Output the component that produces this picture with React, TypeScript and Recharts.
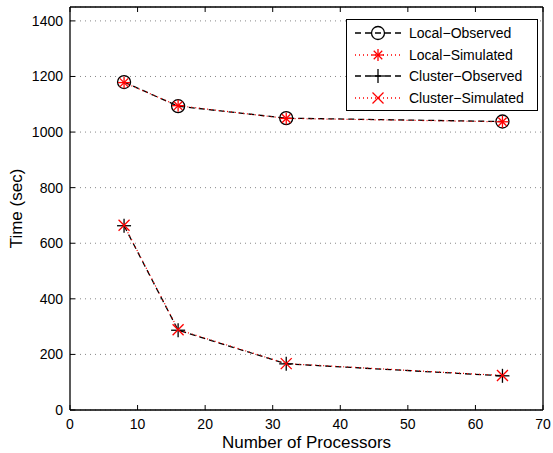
import React from "react";
import {
  LineChart,
  Line,
  XAxis,
  YAxis,
  CartesianGrid,
} from "recharts";

const processors = [8, 16, 32, 64];
const localObserved = [1180, 1093, 1050, 1038];
const localSimulated = [1178, 1095, 1049, 1037];
const clusterObserved = [663, 287, 166, 123];
const clusterSimulated = [665, 289, 167, 124];
const xTicks = [0, 10, 20, 30, 40, 50, 60, 70];
const yTicks = [0, 200, 400, 600, 800, 1000, 1200, 1400];
const seriesNames = [
  "Local\u2212Observed",
  "Local\u2212Simulated",
  "Cluster\u2212Observed",
  "Cluster\u2212Simulated",
];

const data = processors.map((p, i) => ({
  p,
  lo: localObserved[i],
  ls: localSimulated[i],
  co: clusterObserved[i],
  cs: clusterSimulated[i],
}));

const FONT = "'Liberation Sans', Arial, Helvetica, sans-serif";

const CircleMark = ({ cx, cy }: any) => (
  <circle cx={cx} cy={cy} r={6.5} fill="none" stroke="#000" strokeWidth={1.3} />
);
const AsteriskMark = ({ cx, cy }: any) => {
  const r = 6;
  const d = r * 0.7071;
  return (
    <g stroke="#ff0000" strokeWidth={1.3}>
      <line x1={cx - r} y1={cy} x2={cx + r} y2={cy} />
      <line x1={cx} y1={cy - r} x2={cx} y2={cy + r} />
      <line x1={cx - d} y1={cy - d} x2={cx + d} y2={cy + d} />
      <line x1={cx - d} y1={cy + d} x2={cx + d} y2={cy - d} />
    </g>
  );
};
const PlusMark = ({ cx, cy }: any) => {
  const r = 7;
  return (
    <g stroke="#000" strokeWidth={1.3}>
      <line x1={cx - r} y1={cy} x2={cx + r} y2={cy} />
      <line x1={cx} y1={cy - r} x2={cx} y2={cy + r} />
    </g>
  );
};
const XMark = ({ cx, cy }: any) => {
  const r = 5.5;
  return (
    <g stroke="#ff0000" strokeWidth={1.3}>
      <line x1={cx - r} y1={cy - r} x2={cx + r} y2={cy + r} />
      <line x1={cx - r} y1={cy + r} x2={cx + r} y2={cy - r} />
    </g>
  );
};

const BottomTick = ({ x, y, payload }: any) => (
  <g>
    <line x1={x} x2={x} y1={y} y2={y - 5} stroke="#000" />
    <text x={x} y={y + 19} textAnchor="middle" fontSize={14} fontFamily={FONT} fill="#000">
      {payload.value}
    </text>
  </g>
);
const TopTick = ({ x, y }: any) => (
  <line x1={x} x2={x} y1={y} y2={y + 5} stroke="#000" />
);
const LeftTick = ({ x, y, payload }: any) => (
  <g>
    <line x1={x} x2={x + 5} y1={y} y2={y} stroke="#000" />
    <text x={x - 7} y={y + 5} textAnchor="end" fontSize={14} fontFamily={FONT} fill="#000">
      {payload.value}
    </text>
  </g>
);
const RightTick = ({ x, y }: any) => (
  <line x1={x} x2={x - 5} y1={y} y2={y} stroke="#000" />
);

const legendIcons = [
  { color: "#000", dash: "6 4", Mark: CircleMark },
  { color: "#ff0000", dash: "1 3", Mark: AsteriskMark },
  { color: "#000", dash: "6 4", Mark: PlusMark },
  { color: "#ff0000", dash: "1 3", Mark: XMark },
];

export default function App() {
  return (
    <div style={{ position: "absolute", left: 0, top: 0, width: 553, height: 453, background: "#fff" }}>
      <LineChart
        width={553}
        height={453}
        data={data}
        margin={{ top: 0, right: 0, left: 0, bottom: 0 }}
      >
        <CartesianGrid
          vertical={false}
          stroke="#888"
          strokeDasharray="1 4"
          yAxisId="left"
        />
        <XAxis
          xAxisId="bottom"
          dataKey="p"
          type="number"
          domain={[0, 70]}
          ticks={xTicks}
          height={43}
          tickLine={false}
          tickSize={0}
          tickMargin={0}
          axisLine={{ stroke: "#000", strokeWidth: 1.3 }}
          tick={<BottomTick />}
          label={{
            value: "Number of Processors",
            position: "insideBottom",
            offset: 5,
            fontSize: 17,
            fontFamily: FONT,
            fill: "#000",
          }}
        />
        <XAxis
          xAxisId="top"
          orientation="top"
          dataKey="p"
          type="number"
          domain={[0, 70]}
          ticks={xTicks}
          height={7}
          tickLine={false}
          tickSize={0}
          tickMargin={0}
          axisLine={{ stroke: "#000", strokeWidth: 1.3 }}
          tick={<TopTick />}
        />
        <YAxis
          yAxisId="left"
          type="number"
          domain={[0, 1450]}
          ticks={yTicks}
          width={70}
          tickLine={false}
          tickSize={0}
          tickMargin={0}
          axisLine={{ stroke: "#000", strokeWidth: 1.3 }}
          tick={<LeftTick />}
          label={{
            value: "Time (sec)",
            angle: -90,
            position: "insideLeft",
            offset: 16,
            style: { textAnchor: "middle" },
            fontSize: 17,
            fontFamily: FONT,
            fill: "#000",
          }}
        />
        <YAxis
          yAxisId="right"
          orientation="right"
          type="number"
          domain={[0, 1450]}
          ticks={yTicks}
          width={10}
          tickLine={false}
          tickSize={0}
          tickMargin={0}
          axisLine={{ stroke: "#000", strokeWidth: 1.3 }}
          tick={<RightTick />}
        />
        <Line
          xAxisId="bottom"
          yAxisId="left"
          dataKey="lo"
          stroke="#000"
          strokeWidth={1.3}
          strokeDasharray="6 4"
          dot={(p: any) => <CircleMark key={p.index} cx={p.cx} cy={p.cy} />}
          isAnimationActive={false}
        />
        <Line
          xAxisId="bottom"
          yAxisId="left"
          dataKey="ls"
          stroke="#ff0000"
          strokeWidth={1.2}
          strokeDasharray="1 3"
          dot={(p: any) => <AsteriskMark key={p.index} cx={p.cx} cy={p.cy} />}
          isAnimationActive={false}
        />
        <Line
          xAxisId="bottom"
          yAxisId="left"
          dataKey="co"
          stroke="#000"
          strokeWidth={1.3}
          strokeDasharray="6 4"
          dot={(p: any) => <PlusMark key={p.index} cx={p.cx} cy={p.cy} />}
          isAnimationActive={false}
        />
        <Line
          xAxisId="bottom"
          yAxisId="left"
          dataKey="cs"
          stroke="#ff0000"
          strokeWidth={1.2}
          strokeDasharray="1 3"
          dot={(p: any) => <XMark key={p.index} cx={p.cx} cy={p.cy} />}
          isAnimationActive={false}
        />
      </LineChart>
      <div
        style={{
          position: "absolute",
          left: 346,
          top: 19,
          width: 190,
          height: 90,
          border: "1px solid #000",
          background: "#fff",
          fontFamily: FONT,
          fontSize: 14,
        }}
      >
        {seriesNames.map((name, i) => {
          const { color, dash, Mark } = legendIcons[i];
          return (
            <div
              key={name}
              style={{ position: "absolute", left: 0, top: 3 + i * 21.5, height: 20, display: "flex", alignItems: "center" }}
            >
              <svg width={60} height={20} style={{ display: "block" }}>
                <line x1={8} x2={54} y1={10} y2={10} stroke={color} strokeWidth={1.3} strokeDasharray={dash} />
                <Mark cx={31} cy={10} />
              </svg>
              <span style={{ marginLeft: 2, whiteSpace: "nowrap" }}>{name}</span>
            </div>
          );
        })}
      </div>
    </div>
  );
}
